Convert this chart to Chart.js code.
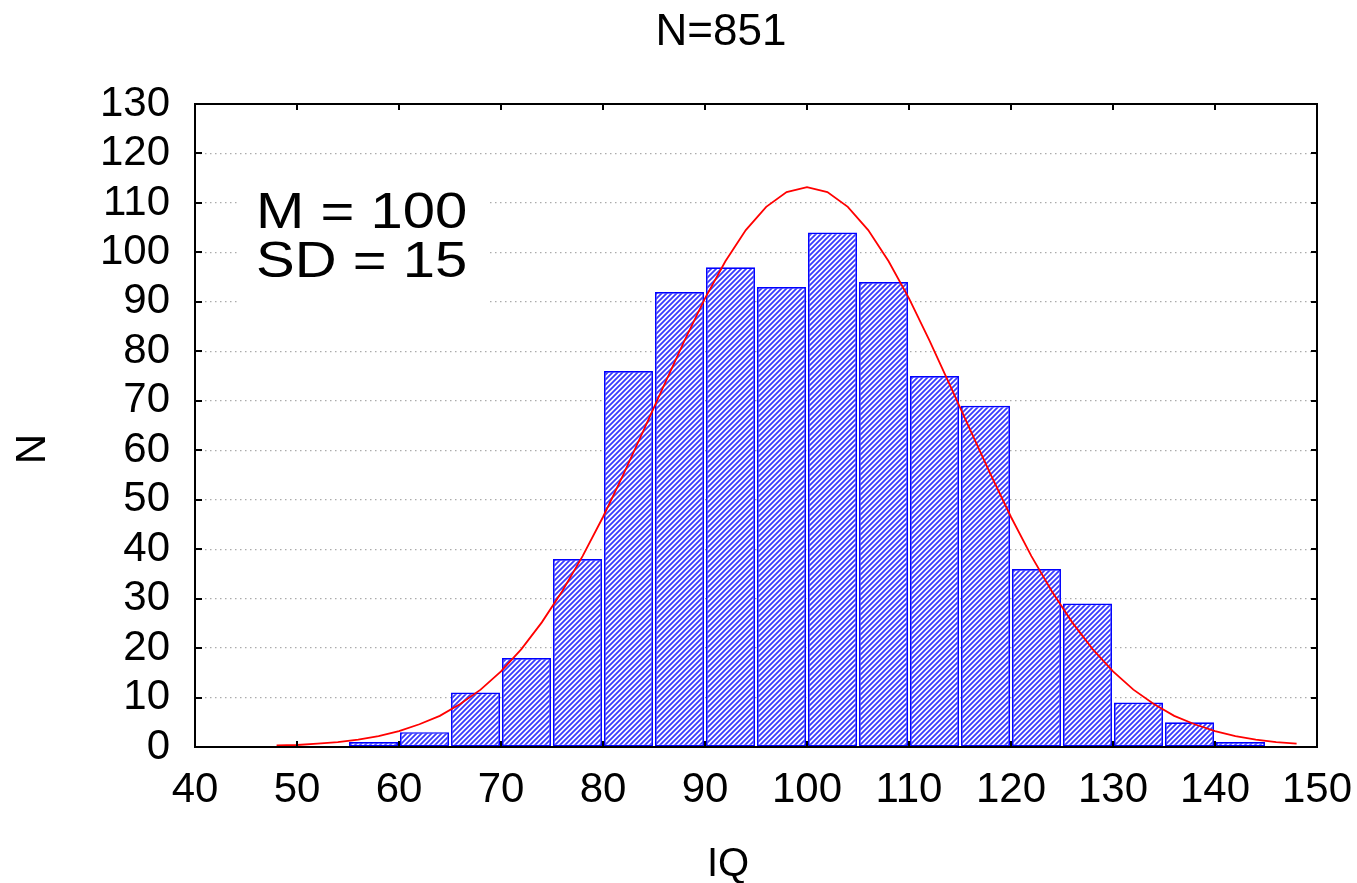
<!DOCTYPE html>
<html>
<head>
<meta charset="utf-8">
<script src="https://cdn.jsdelivr.net/npm/chart.js@4"></script>
<style>
  html, body { margin: 0; padding: 0; background: #fff; }
  #wrap { width: 1357px; height: 883px; position: relative; }
</style>
</head>
<body>
<div id="wrap"><canvas id="histChart"></canvas></div>
<script>
// histogram bins (lower edge, width 5) and counts
const binLeft = [55, 60, 65, 70, 75, 80, 85, 90, 95, 100, 105, 110, 115, 120, 125, 130, 135, 140];
const counts  = [1, 3, 11, 18, 38, 76, 92, 97, 93, 104, 94, 75, 69, 36, 29, 9, 5, 1];
const binWidth = 5;

// fitted normal curve
const curveX = [48, 50, 52, 54, 56, 58, 60, 62, 64, 66, 68, 70, 72, 74, 76, 78, 80, 82, 84, 86, 88, 90, 92, 94, 96, 98,
                100, 102, 104, 106, 108, 110, 112, 114, 116, 118, 120, 122, 124, 126, 128, 130, 132, 134, 136, 138, 140, 142, 144, 146, 148];
const curveY = [0.3, 0.4, 0.7, 1.0, 1.5, 2.2, 3.2, 4.6, 6.3, 8.7, 11.6, 15.3, 19.8, 25.2, 31.5, 38.6, 46.5, 55.1, 64.1, 73.2, 82.2, 90.7, 98.2, 104.5, 109.2, 112.2,
                113.2, 112.2, 109.2, 104.5, 98.2, 90.7, 82.2, 73.2, 64.1, 55.1, 46.5, 38.6, 31.5, 25.2, 19.8, 15.3, 11.6, 8.7, 6.3, 4.6, 3.2, 2.2, 1.5, 1.0, 0.7];

const titleText = "N=851";
const xTitle = "IQ";
const yTitle = "N";
const noteLines = ["M = 100", "SD = 15"];

const FONT = "Arial, 'Liberation Sans', sans-serif";

// diagonal hatch for the bars
function makeHatch() {
  const n = 5;
  const c = document.createElement("canvas");
  c.width = n; c.height = n;
  const g = c.getContext("2d");
  g.fillStyle = "#ffffff";
  g.fillRect(0, 0, n, n);
  g.strokeStyle = "#3a3aff";
  g.lineWidth = 1.8;
  g.beginPath();
  g.moveTo(-1, n + 1); g.lineTo(n + 1, -1);
  g.moveTo(-1, 1); g.lineTo(1, -1);
  g.moveTo(n - 1, n + 1); g.lineTo(n + 1, n - 1);
  g.stroke();
  return g.createPattern(c, "repeat");
}

// white box with the M / SD note
const notePlugin = {
  id: "note",
  beforeDatasetsDraw(chart) {
    const ctx = chart.ctx;
    ctx.save();
    ctx.fillStyle = "#fff";
    ctx.fillRect(238, 170, 250, 148);
    ctx.fillStyle = "#000";
    ctx.font = "50px " + FONT;
    ctx.textBaseline = "alphabetic";
    ctx.translate(256, 0);
    ctx.scale(1.16, 1);
    ctx.fillText(noteLines[0], 0, 228);
    ctx.fillText(noteLines[1], 0, 277);
    ctx.restore();
  }
};

// frame, inward tick marks on all four sides, and the titles
const framePlugin = {
  id: "frame",
  afterDatasetsDraw(chart) {
    const ctx = chart.ctx;
    const a = chart.chartArea;
    const xs = chart.scales.x, ys = chart.scales.y;
    ctx.save();
    ctx.strokeStyle = "#000";
    ctx.lineWidth = 2;
    ctx.strokeRect(a.left, a.top, a.right - a.left, a.bottom - a.top);
    ctx.beginPath();
    xs.ticks.forEach(t => {
      const px = Math.round(xs.getPixelForValue(t.value));
      ctx.moveTo(px, a.bottom); ctx.lineTo(px, a.bottom - 6);
      ctx.moveTo(px, a.top); ctx.lineTo(px, a.top + 6);
    });
    ys.ticks.forEach(t => {
      const py = Math.round(ys.getPixelForValue(t.value));
      ctx.moveTo(a.left, py); ctx.lineTo(a.left + 7, py);
      ctx.moveTo(a.right, py); ctx.lineTo(a.right - 6, py);
    });
    ctx.stroke();

    ctx.fillStyle = "#000";
    ctx.textBaseline = "alphabetic";
    ctx.textAlign = "center";
    ctx.font = "44px " + FONT;
    ctx.fillText(titleText, 721, 45);
    ctx.font = "40px " + FONT;
    ctx.fillText(xTitle, 728, 876);
    ctx.font = "42px " + FONT;
    ctx.translate(45, 449);
    ctx.rotate(-Math.PI / 2);
    ctx.fillText(yTitle, 0, 0);
    ctx.restore();
  }
};

new Chart(document.getElementById("histChart"), {
  type: "bar",
  data: {
    datasets: [
      {
        type: "line",
        data: curveX.map((x, i) => ({ x: x, y: curveY[i] })),
        borderColor: "#ff0000",
        borderWidth: 1.8,
        pointRadius: 0,
        tension: 0,
        fill: false,
        order: 0
      },
      {
        type: "bar",
        data: binLeft.map((b, i) => ({ x: b + binWidth / 2, y: counts[i] })),
        backgroundColor: makeHatch(),
        borderColor: "#0000ff",
        borderWidth: 1.7,
        borderSkipped: false,
        barPercentage: 0.96,
        categoryPercentage: 1,
        order: 1
      }
    ]
  },
  options: {
    responsive: true,
    maintainAspectRatio: false,
    animation: false,
    layout: { padding: { left: 0, right: 40, top: 104, bottom: 0 } },
    plugins: {
      legend: { display: false },
      tooltip: { enabled: false },
      title: { display: false }
    },
    scales: {
      x: {
        type: "linear",
        min: 40,
        max: 150,
        offset: false,
        grid: { display: false },
        border: { display: false },
        ticks: {
          stepSize: 10,
          autoSkip: false,
          color: "#000",
          padding: 10,
          maxRotation: 0,
          font: { family: FONT, size: 42 }
        },
        afterFit(scale) {
          scale.height = 136;
          scale.paddingLeft = 0;
          scale.paddingRight = 0;
        }
      },
      y: {
        min: 0,
        max: 130,
        grid: { color: "#ababab", lineWidth: 1.3, drawTicks: false },
        border: { display: false, dash: [1.5, 3.5] },
        ticks: {
          stepSize: 10,
          autoSkip: false,
          color: "#000",
          padding: 25,
          font: { family: FONT, size: 42 }
        },
        afterFit(scale) {
          scale.width = 195;
          scale.paddingTop = 0;
          scale.paddingBottom = 0;
        }
      }
    }
  },
  plugins: [notePlugin, framePlugin]
});
</script>
</body>
</html>
